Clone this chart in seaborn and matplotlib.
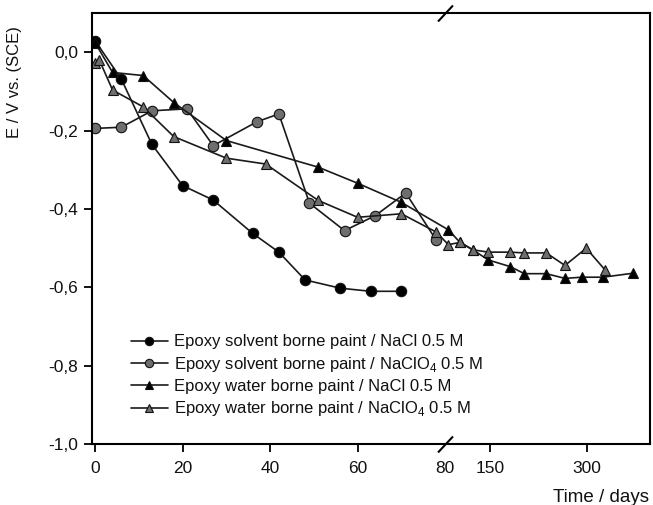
import numpy as np
import pandas as pd
import matplotlib
matplotlib.use("Agg")
import matplotlib.pyplot as plt
import matplotlib.transforms as mtransforms
import seaborn as sns

# ---- data ----
t_sb_nacl = [0, 6, 13, 20, 27, 36, 42, 48, 56, 63, 70]
e_sb_nacl = [0.030, -0.068, -0.235, -0.340, -0.377, -0.462, -0.510, -0.581, -0.602, -0.610, -0.610]

t_sb_clo4 = [0, 6, 13, 21, 27, 37, 42, 49, 57, 64, 71, 78]
e_sb_clo4 = [-0.194, -0.191, -0.149, -0.144, -0.238, -0.177, -0.157, -0.385, -0.455, -0.417, -0.359, -0.480]

t_wb_nacl = [0, 4, 11, 18, 30, 51, 60, 70, 85, 103, 123, 147, 181, 203, 237, 266, 292, 325, 371]
e_wb_nacl = [0.025, -0.051, -0.059, -0.128, -0.225, -0.293, -0.334, -0.383, -0.453, -0.485, -0.504,
             -0.530, -0.547, -0.565, -0.565, -0.577, -0.574, -0.574, -0.564]

t_wb_clo4 = [0, 1, 4, 11, 18, 30, 39, 51, 60, 70, 78, 85, 103, 123, 147, 181, 203, 237, 266, 299, 328]
e_wb_clo4 = [-0.027, -0.020, -0.096, -0.139, -0.215, -0.270, -0.285, -0.378, -0.421, -0.412, -0.459,
             -0.491, -0.485, -0.504, -0.510, -0.510, -0.512, -0.512, -0.544, -0.500, -0.555]

labels = ["Epoxy solvent borne paint / NaCl 0.5 M",
          "Epoxy solvent borne paint / NaClO$_4$ 0.5 M",
          "Epoxy water borne paint / NaCl 0.5 M",
          "Epoxy water borne paint / NaClO$_4$ 0.5 M"]

xticks = [0, 20, 40, 60, 80, 150, 300]
xticklabels = ["0", "20", "40", "60", "80", "150", "300"]
yticks = [0.0, -0.2, -0.4, -0.6, -0.8, -1.0]
yticklabels = ["0,0", "-0,2", "-0,4", "-0,6", "-0,8", "-1,0"]

# ---- style ----
sns.set_theme(style="white")
plt.rcParams["font.family"] = ["Liberation Sans", "DejaVu Sans"]
plt.rcParams["mathtext.fontset"] = "custom"
plt.rcParams["mathtext.rm"] = "Liberation Sans"
plt.rcParams["text.color"] = "#111111"

fig = plt.figure(figsize=(6.53, 5.05), dpi=100)
ax = fig.add_axes([92 / 653, 1 - 444 / 505, 558 / 653, (444 - 13.3) / 505])

BREAK = 80.0
K = 0.1472


def fwd(t):
    t = np.asarray(t, dtype=float)
    return np.where(t <= BREAK, t, BREAK + (t - BREAK) * K)


def inv(u):
    u = np.asarray(u, dtype=float)
    return np.where(u <= BREAK, u, BREAK + (u - BREAK) / K)


line_col = "#1a1a1a"
gray = "#6e6e6e"
series = [
    (t_sb_nacl, e_sb_nacl, "o", "black"),
    (t_sb_clo4, e_sb_clo4, "o", gray),
    (t_wb_nacl, e_wb_nacl, "^", "black"),
    (t_wb_clo4, e_wb_clo4, "^", gray),
]
for (t, e, m, fc), lab in zip(series, labels):
    sns.lineplot(x=t, y=e, ax=ax, color=line_col, lw=1.2, marker=m, markersize=7.5,
                 markerfacecolor=fc, markeredgecolor="#111111", markeredgewidth=0.8,
                 label=lab, sort=False, estimator=None)

ax.set_xscale("function", functions=(fwd, inv))
ax.set_xlim(-0.7, 398)
ax.set_ylim(-1.0, 0.1)

ax.set_xticks(xticks)
ax.set_xticklabels(xticklabels)
ax.set_yticks(yticks)
ax.set_yticklabels(yticklabels)
ax.xaxis.set_minor_locator(matplotlib.ticker.NullLocator())

for s in ax.spines.values():
    s.set_linewidth(1.5)
    s.set_color("black")
    s.set_visible(True)

ax.tick_params(axis="both", which="major", direction="out", length=6, width=1.3,
               color="black", labelsize=12.5, labelcolor="#111111", pad=4)
ax.tick_params(axis="x", bottom=True, top=False, pad=6)
ax.tick_params(axis="y", left=True, right=False)
ax.xaxis.get_major_ticks()[4].tick1line.set_visible(False)

# break marks on bottom and top spines
trans = mtransforms.blended_transform_factory(ax.transData, ax.transAxes)
for yy in (0, 1):
    ax.plot([BREAK], [yy], marker=[(-1, -1.07), (1, 1.07)], markersize=11.5,
            markeredgewidth=1.5, color="black", transform=trans, clip_on=False, ls="none")

ax.set_ylabel("")
ax.set_xlabel("")
fig.text(15 / 653, 1 - 82 / 505, "E / V vs. (SCE)", rotation=90, ha="center", va="center", fontsize=12)
fig.text(649 / 653, 1 - 497 / 505, "Time / days", ha="right", va="center", fontsize=13.5)

leg = ax.legend(loc="upper left", bbox_to_anchor=(0.058, 0.27), frameon=False, fontsize=12,
                handlelength=2.2, handletextpad=0.4, labelspacing=0.32, borderaxespad=0,
                markerscale=0.8, labelcolor="#111111")

fig.savefig("out.png", dpi=100)
